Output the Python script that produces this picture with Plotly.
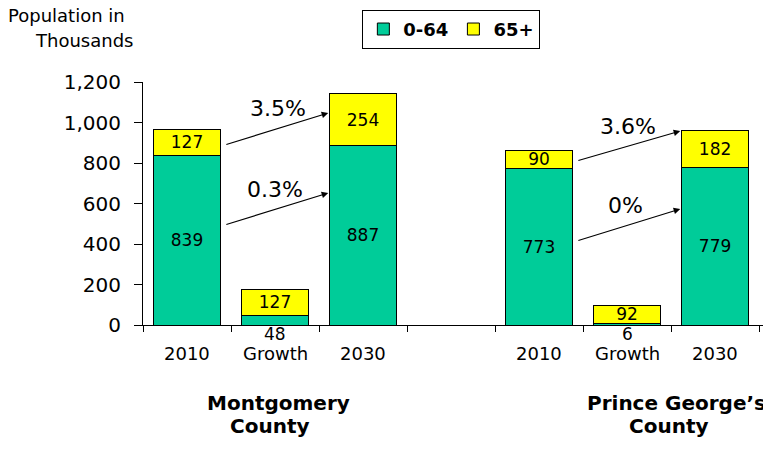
import plotly.graph_objects as go

# ---------------- data ----------------
counties = ["Montgomery County", "Prince George’s County"]
periods = ["2010", "Growth", "2030"]
age_0_64 = [839, 48, 887, 773, 6, 779]
age_65_plus = [127, 127, 254, 90, 92, 182]
rate_65_plus = ["3.5%", "3.6%"]
rate_0_64 = ["0.3%", "0%"]

FONT = "DejaVu Sans"
TEAL = "#00CC99"
YELLOW = "#FFFF00"

# slot positions: 3 bars per county, one empty slot between counties
x_pos = [g * 4 + i for g in range(len(counties)) for i in range(len(periods))]
labels = [p for _ in counties for p in periods]

# inside labels (growth 0-64 shown below the axis instead)
teal_text = ["" if labels[k] == "Growth" else str(v) for k, v in enumerate(age_0_64)]
yellow_text = [str(v) for v in age_65_plus]

fig = go.Figure()
fig.add_trace(go.Bar(
    x=x_pos, y=age_0_64, name="0-64", width=0.77,
    marker=dict(color=TEAL, line=dict(color="black", width=1)),
    text=teal_text, textposition="inside", insidetextanchor="middle",
    textangle=0, textfont=dict(family=FONT, size=17, color="black"),
))
fig.add_trace(go.Bar(
    x=x_pos, y=age_65_plus, name="65+", width=0.77,
    marker=dict(color=YELLOW, line=dict(color="black", width=1)),
    text=yellow_text, textposition="inside", insidetextanchor="middle",
    textangle=0, textfont=dict(family=FONT, size=17, color="black"),
))

ann = []
# category labels under slots
for xp, lab in zip(x_pos, labels):
    ann.append(dict(x=xp, y=-0.117, xref="x", yref="paper", text=lab, showarrow=False,
                    xanchor="center", yanchor="middle",
                    font=dict(family=FONT, size=18, color="black")))
# growth 0-64 values below axis
for k, (xp, lab) in enumerate(zip(x_pos, labels)):
    if lab == "Growth":
        ann.append(dict(x=xp, y=-0.039, xref="x", yref="paper", text=str(age_0_64[k]),
                        showarrow=False, xanchor="center", yanchor="middle",
                        font=dict(family=FONT, size=17, color="black")))

# county labels (two lines each)
line1_x = [1.04, 5.56]
line2_x = [0.943, 5.477]
for k, name in enumerate(counties):
    l1, l2 = name.rsplit(" ", 1)
    ann.append(dict(x=line1_x[k], y=-0.321, xref="x", yref="paper", text="<b>%s</b>" % l1,
                    showarrow=False, xanchor="center", yanchor="middle",
                    font=dict(family=FONT, size=20, color="black")))
    ann.append(dict(x=line2_x[k], y=-0.416, xref="x", yref="paper", text="<b>%s</b>" % l2,
                    showarrow=False, xanchor="center", yanchor="middle",
                    font=dict(family=FONT, size=20, color="black")))

# growth arrows and rates
arrow_tail_x = [0.43, 4.43]
arrow_head_x = [1.605, 5.605]
upper_arrow = [(889, 1047), (810, 958)]
lower_arrow = [(494, 652), (415, 573)]
upper_text_pos = [(1.03, 1067), (5.01, 978)]
lower_text_pos = [(1.0, 667), (4.98, 588)]
for g in range(len(counties)):
    for (y0, y1) in (upper_arrow[g], lower_arrow[g]):
        ann.append(dict(x=arrow_head_x[g], y=y1, ax=arrow_tail_x[g], ay=y0,
                        xref="x", yref="y", axref="x", ayref="y", text="",
                        showarrow=True, arrowhead=2, arrowsize=1.1, arrowwidth=1.2,
                        arrowcolor="black", standoff=0, startstandoff=0))
    ann.append(dict(x=upper_text_pos[g][0], y=upper_text_pos[g][1], xref="x", yref="y",
                    text=rate_65_plus[g], showarrow=False,
                    font=dict(family=FONT, size=22, color="black")))
    ann.append(dict(x=lower_text_pos[g][0], y=lower_text_pos[g][1], xref="x", yref="y",
                    text=rate_0_64[g], showarrow=False,
                    font=dict(family=FONT, size=22, color="black")))

# y-axis title (two lines)
ann.append(dict(x=-0.218, y=1.272, xref="paper", yref="paper", text="Population in",
                showarrow=False, xanchor="left", yanchor="middle",
                font=dict(family=FONT, size=18, color="black")))
ann.append(dict(x=-0.175, y=1.171, xref="paper", yref="paper", text="Thousands",
                showarrow=False, xanchor="left", yanchor="middle",
                font=dict(family=FONT, size=18, color="black")))

fig.update_layout(
    width=771, height=450,
    margin=dict(l=135, r=8, t=74, b=133, autoexpand=False),
    barmode="stack",
    plot_bgcolor="white", paper_bgcolor="white",
    uniformtext=dict(minsize=17, mode="show"),
    showlegend=True,
    legend=dict(orientation="h", x=0.491, xanchor="center", y=1.297, yanchor="top",
                traceorder="normal",
                bordercolor="black", borderwidth=1, bgcolor="white",
                font=dict(family=FONT, size=18, color="black", weight="bold"),
                itemwidth=30, tracegroupgap=0),
    annotations=ann,
    font=dict(family=FONT, color="black"),
)
fig.update_xaxes(
    range=[-0.5, 6.636], showgrid=False, zeroline=False, automargin=False,
    showline=True, linecolor="black", linewidth=1,
    tickmode="array", tickvals=[v - 0.5 for v in range(8)],
    ticktext=[""] * 8, ticks="outside", ticklen=6, tickcolor="black",
)
fig.update_yaxes(
    range=[0, 1200], showgrid=False, zeroline=False, automargin=False,
    showline=True, linecolor="black", linewidth=1,
    tickmode="array", tickvals=list(range(0, 1201, 200)), tickformat=",",
    ticks="outside", ticklen=8, tickcolor="black", ticklabelstandoff=9,
    tickfont=dict(family=FONT, size=20, color="black"),
)

fig.write_html("out.html")
